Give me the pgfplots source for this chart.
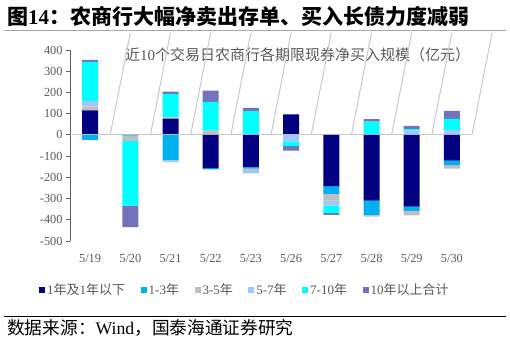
\documentclass[border=0pt]{standalone}
\usepackage{fontspec}
\setmainfont{Liberation Serif}
\newfontfamily\cjk{Noto Sans CJK SC}
\usepackage{pgfplots}
\pgfplotsset{compat=1.18}
\usepackage{pgfplotstable}
\definecolor{cA}{HTML}{000080}
\definecolor{cB}{HTML}{00B0F0}
\definecolor{cC}{HTML}{C0C0C0}
\definecolor{cD}{HTML}{9DC8F8}
\definecolor{cE}{HTML}{00FFFF}
\definecolor{txt}{HTML}{595959}
\definecolor{zline}{HTML}{C8C8C8}
\pgfplotstableread{
x s1 s2 s3 s4 s5 s6
0 115 -24 18 27 184 10
1 0 -4 -24 3 -305 -102
2 77 -118 6 -10 110 11
3 -157 -6 20 0 136 53
4 -151 -8 -11 -11 112 15
5 97 0 0 -31 -21 -22
6 -241 -37 -30 -25 -36 -8
7 -310 -67 -8 0 63 11
8 -338 -20 -21 20 7 15
9 -121 -21 -17 24 51 38
}\data
\pgfplotsset{
  base/.style={scale only axis, width=402pt, height=191pt,
    at={(70pt,-241pt)}, anchor=south west,
    xmin=-0.5, xmax=9.5, ymin=-500, ymax=400,
    ybar stacked, bar width=16pt, clip=false},
  sq/.style={legend image code/.code={\path[##1,draw=none] (0pt,-3pt) rectangle (6pt,3pt);}},
  hatch/.style={draw=none, fill=cA!55!white},
}
\begin{document}
\begin{tikzpicture}
\useasboundingbox (0,0) rectangle (510pt,-342pt);
% header
\node[anchor=west, inner sep=0pt] at (7pt,-16pt) {\fontsize{21}{23}\selectfont\bfseries{\cjk 图}14{\cjk ：农商行大幅净卖出存单、买入长债力度减弱}};
\draw[gray!70, line width=1.6pt] (4pt,-30.5pt) -- (506pt,-30.5pt);
\draw[black, line width=0.9pt] (4pt,-316pt) -- (506pt,-316pt);
\node[anchor=west, inner sep=0pt] at (7pt,-328pt) {\fontsize{17.7}{19}\selectfont{\cjk 数据来源：}Wind{\cjk ，国泰海通证券研究}};
\node[anchor=west, inner sep=0pt, text=txt] at (125pt,-55pt) {\fontsize{15}{17}\selectfont{\cjk 近}10{\cjk 个交易日农商行各期限现券净买入规模（亿元）}};
\begin{axis}[base,
  axis lines*=left, axis line style={-},
  x axis line style={draw=none},
  y axis line style={draw=gray!75!black, line width=0.9pt},
  xtick={0,...,9}, xticklabels={5/19,5/20,5/21,5/22,5/23,5/26,5/27,5/28,5/29,5/30},
  xtick style={draw=none},
  ytick={-500,-400,...,400},
  ytick style={draw=gray!75!black, line width=0.8pt},
  tick align=outside, major tick length=4pt,
  /pgf/number format/assume math mode=true,
  tick label style={font=\fontsize{12.3}{14}\selectfont, text=txt},
  xticklabel style={yshift=-6pt},
  legend columns=-1,
  legend style={at={(0.435,-0.257)}, anchor=center, draw=none, fill=none,
    font=\fontsize{13}{15}\selectfont, text=txt,
    /tikz/every even column/.append style={column sep=13.5pt}},
]
\draw[zline, line width=1.2pt] (axis cs:-0.5,0) -- (axis cs:9.5,0);
\pgfplotsinvokeforeach{0.5,1.5,2.5,3.5,4.5,5.5,6.5,7.5,8.5,9.5}{\draw[zline, line width=1pt] (axis cs:#1,0) -- ++(0,-4pt);}
\addplot[sq, fill=cA, draw=none] table[x=x, y expr={max(\thisrow{s1},0)}]{\data};
\addlegendentry{1{\cjk 年及}1{\cjk 年以下}}
\addplot[sq, fill=cB, draw=none] table[x=x, y expr={max(\thisrow{s2},0)}]{\data};
\addlegendentry{1-3{\cjk 年}}
\addplot[sq, fill=cC, draw=none] table[x=x, y expr={max(\thisrow{s3},0)}]{\data};
\addlegendentry{3-5{\cjk 年}}
\addplot[sq, fill=cD, draw=none] table[x=x, y expr={max(\thisrow{s4},0)}]{\data};
\addlegendentry{5-7{\cjk 年}}
\addplot[sq, fill=cE, draw=none] table[x=x, y expr={max(\thisrow{s5},0)}]{\data};
\addlegendentry{7-10{\cjk 年}}
\addplot[sq, hatch] table[x=x, y expr={max(\thisrow{s6},0)}]{\data};
\addlegendentry{10{\cjk 年以上合计}}
\end{axis}
\begin{axis}[base, hide axis]
\addplot[fill=cA, draw=none] table[x=x, y expr={min(\thisrow{s1},0)}]{\data};
\addplot[fill=cB, draw=none] table[x=x, y expr={min(\thisrow{s2},0)}]{\data};
\addplot[fill=cC, draw=none] table[x=x, y expr={min(\thisrow{s3},0)}]{\data};
\addplot[fill=cD, draw=none] table[x=x, y expr={min(\thisrow{s4},0)}]{\data};
\addplot[fill=cE, draw=none] table[x=x, y expr={min(\thisrow{s5},0)}]{\data};
\addplot[hatch] table[x=x, y expr={min(\thisrow{s6},0)}]{\data};
\end{axis}
\end{tikzpicture}
\end{document}
